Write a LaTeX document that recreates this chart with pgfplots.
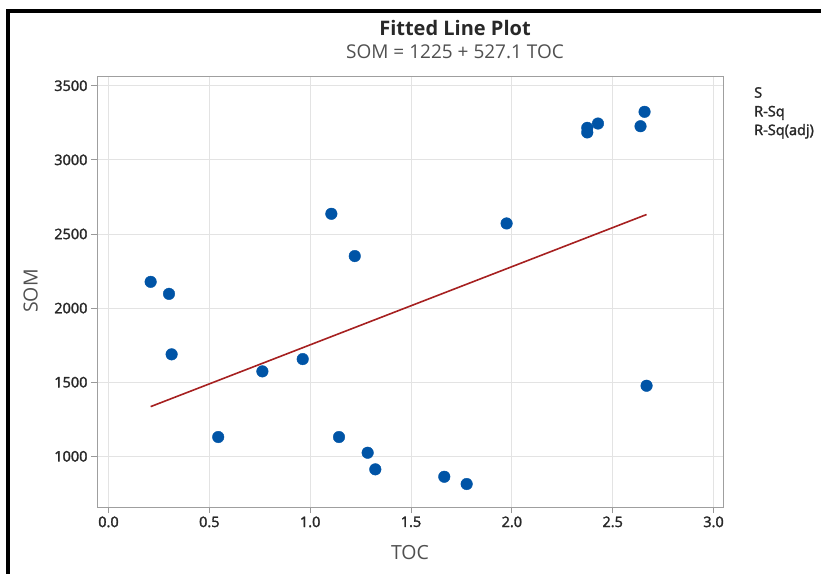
\documentclass[border=0pt]{standalone}
\usepackage{pgfplots}
\pgfplotsset{compat=1.18}
\usepackage{fontspec}
\setmainfont{Open Sans}
\newfontfamily\semib{Open Sans}[FakeBold=2]
\definecolor{dotblue}{RGB}{0,84,166}
\definecolor{fitred}{RGB}{166,32,32}
\definecolor{txt}{RGB}{40,40,40}
\definecolor{txtlight}{RGB}{80,80,80}

\begin{document}
\begin{tikzpicture}
\useasboundingbox (0,0) rectangle (821pt,573pt);
\begin{axis}[
    at={(97pt,66pt)}, anchor=south west,
    scale only axis,
    width=626pt, height=430pt,
    xmin=-0.057, xmax=3.047,
    ymin=658, ymax=3559,
    xtick={0,0.5,1,1.5,2,2.5,3},
    ytick={1000,1500,2000,2500,3000,3500},
    xtick pos=bottom, ytick pos=left,
    tick align=outside,
    major tick length=6pt,
    tick style={color=gray!80, line width=0.8pt},
    axis line style={color=gray!75, line width=1pt},
    grid=major,
    major grid style={color=gray!22, line width=0.8pt},
    /pgf/number format/assume math mode=true,
    xticklabel style={/pgf/number format/.cd, fixed, fixed zerofill, precision=1},
    yticklabel style={/pgf/number format/.cd, 1000 sep={}},
    ticklabel style={font=\semib\fontsize{14.5}{17}\selectfont, color=txt},
    xlabel={TOC}, ylabel={SOM},
    label style={font=\fontsize{19.5}{22}\selectfont, color=txtlight},
    xlabel style={at={(axis description cs:0.5,-0.1047)}, anchor=center},
    ylabel style={at={(axis description cs:-0.106,0.502)}, anchor=center},
]
\addplot[only marks, mark=*, mark size=5.8pt, color=dotblue, mark options={fill=dotblue}] coordinates {
(0.209,2177)
(0.300,2096)
(0.313,1688)
(0.544,1130)
(0.763,1573)
(0.963,1656)
(1.105,2636)
(1.221,2351)
(1.143,1130)
(1.285,1024)
(1.323,912)
(1.665,862)
(1.776,813)
(1.974,2571)
(2.374,3216)
(2.374,3185)
(2.427,3245)
(2.638,3227)
(2.658,3324)
(2.668,1476)
};
\addplot[color=fitred, line width=1.6pt] coordinates {
(0.209,1335.2)
(2.668,2631.3)
};
\end{axis}
\node[font=\fontsize{20}{23}\selectfont\bfseries, color=txt] at (455pt,545pt) {Fitted Line Plot};
\node[font=\fontsize{19}{22}\selectfont, color=txtlight] at (455pt,521pt) {SOM = 1225 + 527.1 TOC};
\node[anchor=north west, align=left, font=\semib\fontsize{14.5}{18.7}\selectfont, color=txt, inner sep=0pt] at (754pt,486pt) {S\\R-Sq\\R-Sq(adj)};
\draw[line width=4pt, black] (8pt,-2pt) -- (8pt,562pt) -- (823pt,562pt);
\end{tikzpicture}
\end{document}
